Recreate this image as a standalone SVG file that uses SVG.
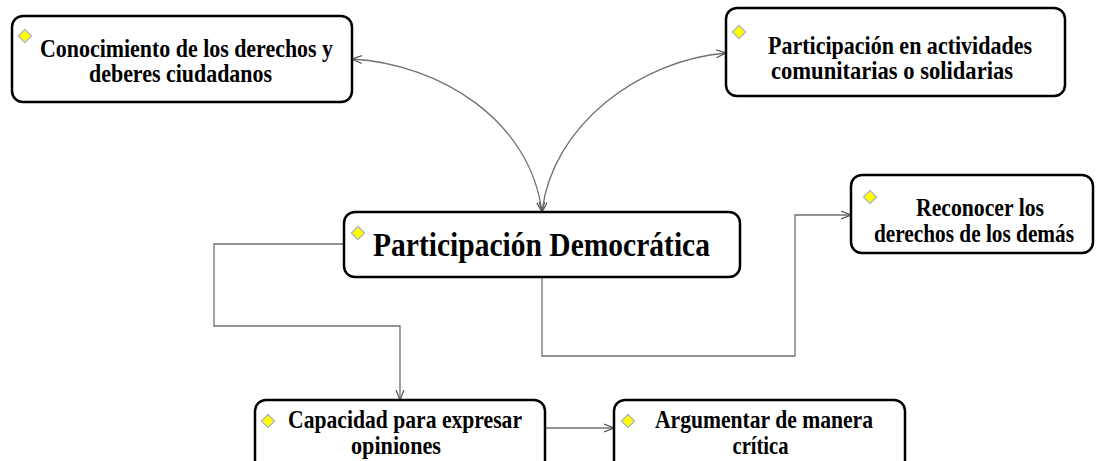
<svg xmlns="http://www.w3.org/2000/svg" width="1098" height="461" viewBox="0 0 1098 461">
  <defs>
    <style>
      .box { fill: #ffffff; stroke: #000000; stroke-width: 2.5; }
      .t { font-family: "Liberation Serif", "Times New Roman", serif; font-weight: bold; font-size: 25px; fill: #000000; text-anchor: middle; }
      .big { font-size: 33px; }
      .dia { fill: #ffff00; stroke: #b8b8b8; stroke-width: 1.5; }
      .con { fill: none; stroke: #707070; stroke-width: 1.3; }
    </style>
    <marker id="arr" viewBox="0 0 10 10" refX="10" refY="5" markerWidth="10" markerHeight="10" markerUnits="userSpaceOnUse" orient="auto-start-reverse">
      <path d="M0,1 L10,5 L0,9" fill="none" stroke="#555555" stroke-width="1.2"/>
    </marker>
  </defs>
  <rect width="1098" height="461" fill="#ffffff"/>

  <g id="connectors">
    <path class="con" d="M352,59 C440,64 530,120 542,212" marker-start="url(#arr)" marker-end="url(#arr)"/>
    <path class="con" d="M542,212 C552,125 640,60 726,53" marker-start="url(#arr)" marker-end="url(#arr)"/>
    <path class="con" d="M343,244 H214 V326 H400 V400" marker-end="url(#arr)"/>
    <path class="con" d="M542,277 V356 H795 V215 H851" marker-end="url(#arr)"/>
    <path class="con" d="M545,428 H614" marker-end="url(#arr)"/>
  </g>

  <g id="node-conocimiento">
    <rect class="box" x="12" y="16" width="340" height="86" rx="11"/>
    <path class="dia" d="M25,29.5 L31.5,36 L25,42.5 L18.5,36 Z"/>
    <text class="t" x="186.5" y="57" textLength="293" lengthAdjust="spacingAndGlyphs">Conocimiento de los derechos y</text>
    <text class="t" x="180.5" y="82" textLength="183" lengthAdjust="spacingAndGlyphs">deberes ciudadanos</text>
  </g>

  <g id="node-actividades">
    <rect class="box" x="726" y="8" width="339" height="88" rx="11"/>
    <path class="dia" d="M739,25.5 L745.5,32 L739,38.5 L732.5,32 Z"/>
    <text class="t" x="900" y="54" textLength="264" lengthAdjust="spacingAndGlyphs">Participación en actividades</text>
    <text class="t" x="892" y="79" textLength="242" lengthAdjust="spacingAndGlyphs">comunitarias o solidarias</text>
  </g>

  <g id="node-central">
    <rect class="box" x="344" y="212" width="396" height="65" rx="11"/>
    <path class="dia" d="M358,226.5 L364.5,233 L358,239.5 L351.5,233 Z"/>
    <text class="t big" x="541.5" y="256" textLength="337" lengthAdjust="spacingAndGlyphs">Participación Democrática</text>
  </g>

  <g id="node-reconocer">
    <rect class="box" x="851" y="175" width="242" height="78" rx="11"/>
    <path class="dia" d="M870,190.5 L876.5,197 L870,203.5 L863.5,197 Z"/>
    <text class="t" x="980" y="216" textLength="128" lengthAdjust="spacingAndGlyphs">Reconocer los</text>
    <text class="t" x="974" y="242" textLength="200" lengthAdjust="spacingAndGlyphs">derechos de los demás</text>
  </g>

  <g id="node-capacidad">
    <rect class="box" x="255" y="400" width="290" height="72" rx="11"/>
    <path class="dia" d="M268,414.5 L274.5,421 L268,427.5 L261.5,421 Z"/>
    <text class="t" x="405" y="428" textLength="234" lengthAdjust="spacingAndGlyphs">Capacidad para expresar</text>
    <text class="t" x="396" y="454" textLength="90" lengthAdjust="spacingAndGlyphs">opiniones</text>
  </g>

  <g id="node-argumentar">
    <rect class="box" x="614" y="400" width="291" height="72" rx="11"/>
    <path class="dia" d="M628,414.5 L634.5,421 L628,427.5 L621.5,421 Z"/>
    <text class="t" x="764" y="428" textLength="218" lengthAdjust="spacingAndGlyphs">Argumentar de manera</text>
    <text class="t" x="760.5" y="454" textLength="56" lengthAdjust="spacingAndGlyphs">crítica</text>
  </g>
</svg>
